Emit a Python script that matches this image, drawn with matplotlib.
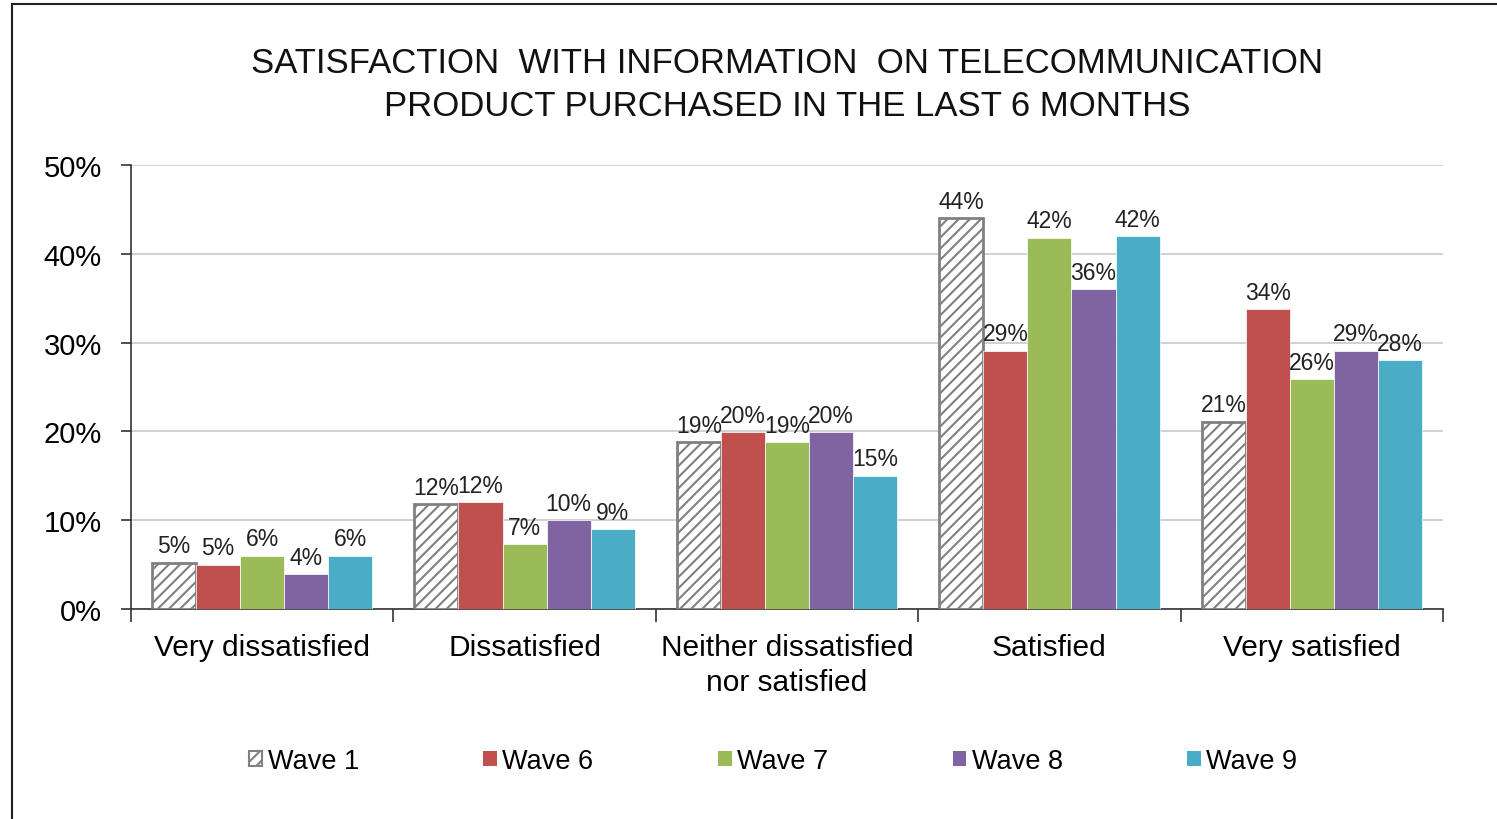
import matplotlib
matplotlib.use("Agg")
import matplotlib.pyplot as plt
import numpy as np
from matplotlib.patches import Patch
from matplotlib.lines import Line2D

categories = ["Very dissatisfied", "Dissatisfied", "Neither dissatisfied\nnor satisfied",
              "Satisfied", "Very satisfied"]
series_names = ["Wave 1", "Wave 6", "Wave 7", "Wave 8", "Wave 9"]
wave1 = [5.2, 11.8, 18.8, 44.0, 21.1]
wave6 = [5.0, 12.0, 19.9, 29.1, 33.8]
wave7 = [6.0, 7.3, 18.8, 41.8, 25.9]
wave8 = [3.9, 10.0, 19.9, 36.0, 29.1]
wave9 = [6.0, 9.0, 15.0, 42.0, 28.0]
series = [wave1, wave6, wave7, wave8, wave9]
colors = ["white", "#C0504D", "#9BBB59", "#8064A2", "#4BACC6"]
yticks = [0, 10, 20, 30, 40, 50]
title = "SATISFACTION  WITH INFORMATION  ON TELECOMMUNICATION\nPRODUCT PURCHASED IN THE LAST 6 MONTHS"

plt.rcParams['font.family'] = ['Liberation Sans', 'DejaVu Sans']
plt.rcParams['hatch.color'] = '#808080'
plt.rcParams['hatch.linewidth'] = 1.5

fig = plt.figure(figsize=(14.97, 8.2), dpi=100)
ax = fig.add_axes([131/1497, 1-610/820, (1443-131)/1497, (610-166)/820])

n = len(series)
bw = 0.168
x = np.arange(len(categories))
for i, (vals, c, name) in enumerate(zip(series, colors, series_names)):
    pos = x + (i - (n-1)/2) * bw
    if i == 0:
        ax.bar(pos, vals, bw, color='white', edgecolor='#808080', hatch='///',
               linewidth=2, label=name, zorder=3)
    else:
        ax.bar(pos, vals, bw, color=c, edgecolor='white', linewidth=0.5,
               label=name, zorder=3)
    for p, v in zip(pos, vals):
        ax.text(p, v + 0.6, f"{round(v):.0f}%", ha='center', va='bottom', fontsize=16.5,
                color='#222222', zorder=5)

ax.set_xlim(-0.5, len(categories) - 0.5)
ax.set_ylim(0, 50)
ax.set_yticks(yticks)
ax.set_yticklabels([f"{t}%" for t in yticks], fontsize=21)
ax.yaxis.grid(True, color='#C8C8C8', linewidth=1.2, zorder=0)
ax.set_axisbelow(True)
ax.tick_params(axis='y', length=7, width=1.2, color='#333333', pad=14)

ax.set_xticks(x)
ax.set_xticklabels(categories, fontsize=21.5)
ax.tick_params(axis='x', length=0, pad=17)
ax.set_xticks(np.arange(-0.5, len(categories), 1.0), minor=True)
ax.tick_params(axis='x', which='minor', length=9, width=1.2, color='#333333')
for lbl in ax.get_xticklabels():
    lbl.set_linespacing(1.32)

for s in ['top', 'right']:
    ax.spines[s].set_visible(False)
ax.spines['left'].set_color('#333333')
ax.spines['bottom'].set_color('#333333')
ax.spines['left'].set_linewidth(1.2)
ax.spines['bottom'].set_linewidth(1.2)

fig.text(787/1497, 1-85/820, title, ha='center', va='center', fontsize=25,
         linespacing=1.4, color='#111111')

handles = [Patch(facecolor='white', edgecolor='#808080', hatch='///', linewidth=1.5)] + \
          [Patch(facecolor=c, edgecolor='none') for c in colors[1:]]
fig.legend(handles, series_names, loc='center', bbox_to_anchor=(773/1497, 1-762/820),
           ncol=5, frameon=False, fontsize=19.5, handlelength=0.5, handleheight=0.5,
           handletextpad=0.2, columnspacing=4.6)

fig.add_artist(Line2D([12/1497, 12/1497], [-0.1, 1-5/820], color='#222222', linewidth=1.5,
                      transform=fig.transFigure))
fig.add_artist(Line2D([12/1497, 1.1], [1-5/820, 1-5/820], color='#222222', linewidth=1.5,
                      transform=fig.transFigure))

fig.savefig("out.png", dpi=100)
